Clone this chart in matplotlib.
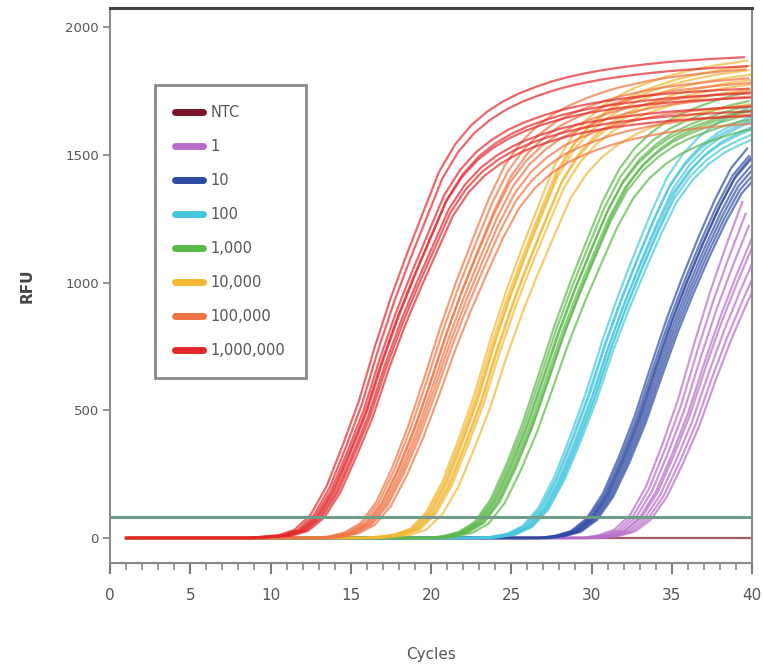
import numpy as np
import matplotlib
matplotlib.use("Agg")
import matplotlib.pyplot as plt
from matplotlib.lines import Line2D

# cycles 1..40
cycles = np.arange(1, 41)

# representative amplification curve (RFU at each cycle) per dilution
rfu_ntc = [0] * 40
rfu_1 = [0] * 30 + [9, 28, 80, 180, 325, 485, 680, 862, 1024, 1175]
rfu_10 = [0] * 27 + [8, 26, 75, 170, 310, 470, 660, 844, 1008, 1160, 1300, 1420, 1495]
rfu_100 = [0] * 23 + [4, 15, 45, 115, 235, 390, 560, 755, 928, 1085, 1235, 1370, 1460,
                      1525, 1572, 1605, 1633]
rfu_1k = [0] * 20 + [6, 22, 60, 145, 280, 436, 620, 808, 976, 1130, 1280, 1400, 1482,
                     1540, 1584, 1615, 1640, 1662, 1680, 1693]
rfu_10k = [0] * 16 + [5, 13, 35, 99, 215, 377, 551, 761, 950, 1118, 1277, 1431, 1534,
                      1606, 1658, 1697, 1728, 1751, 1772, 1788, 1802, 1814, 1823, 1832]
rfu_100k = [0] * 13 + [5, 20, 55, 135, 265, 420, 600, 790, 960, 1115, 1265, 1390, 1475,
                       1535, 1580, 1612, 1638, 1660, 1678, 1692, 1705, 1715, 1723, 1730,
                       1737, 1742, 1747]
rfu_1m = [0] * 9 + [5, 10, 30, 85, 190, 340, 500, 700, 880, 1040, 1190, 1340, 1440, 1510,
                    1560, 1598, 1627, 1650, 1670, 1686, 1699, 1710, 1719, 1727, 1734, 1740,
                    1745, 1749, 1753, 1756, 1759]

# replicate wells: cycle shift and plateau scale for each dilution
shift_ntc = [0.0]
scale_ntc = [1.0]
shift_1 = [-0.6, -0.4, -0.2, 0.0, 0.1, 0.3, 0.5, 0.7]
scale_1 = [1.12, 1.08, 1.04, 1.0, 0.98, 0.95, 0.92, 0.9]
shift_10 = [-0.3, -0.2, -0.1, 0.0, 0.05, 0.15, 0.25, 0.35]
scale_10 = [1.02, 1.0, 0.99, 1.0, 0.98, 0.97, 0.96, 0.95]
shift_100 = [-0.3, -0.2, -0.1, 0.0, 0.1, 0.15, 0.25, 0.3]
scale_100 = [1.03, 1.0, 1.01, 0.98, 1.0, 0.97, 0.99, 0.96]
shift_1k = [-0.3, -0.2, -0.1, 0.0, 0.1, 0.2, 0.3, 0.6]
scale_1k = [1.03, 1.01, 0.99, 1.0, 0.98, 0.97, 0.99, 0.95]
shift_10k = [-0.3, -0.2, -0.1, 0.0, 0.1, 0.2, 0.3, 0.7]
scale_10k = [1.02, 1.0, 0.99, 1.01, 0.97, 0.98, 0.96, 0.93]
shift_100k = [-0.4, -0.25, -0.1, 0.0, 0.1, 0.2, 0.3, 0.5]
scale_100k = [1.05, 1.03, 1.0, 1.02, 0.99, 0.97, 0.95, 0.93]
shift_1m = [-0.5, -0.3, -0.2, -0.1, 0.0, 0.1, 0.2, 0.35]
scale_1m = [1.07, 1.05, 1.0, 0.98, 0.99, 0.96, 0.95, 0.94]

labels = ["NTC", "1", "10", "100", "1,000", "10,000", "100,000", "1,000,000"]
colors = ["#7a1426", "#b86cc8", "#2c4aa2", "#45c6de", "#5cb849", "#f2b733", "#f07443", "#e4262a"]
curves = [rfu_ntc, rfu_1, rfu_10, rfu_100, rfu_1k, rfu_10k, rfu_100k, rfu_1m]
shifts = [shift_ntc, shift_1, shift_10, shift_100, shift_1k, shift_10k, shift_100k, shift_1m]
scales = [scale_ntc, scale_1, scale_10, scale_100, scale_1k, scale_10k, scale_100k, scale_1m]

threshold = 82

fig = plt.figure(figsize=(7.63, 6.72), dpi=100)
ax = fig.add_axes([0.1442, 0.1622, 0.8414, 0.8259])

#draw curves, NTC first, 1,000,000 on top
for curve, sh, sc, col in zip(curves, shifts, scales, colors):
    y = np.array(curve, dtype=float)
    for d, s in zip(sh, sc):
        x = np.clip(cycles + d, 1, None)
        ax.plot(x, y * s, color=col, lw=1.6, alpha=0.7)

ax.axhline(threshold, color="#6f9c86", lw=2.2)

ax.set_xlim(0, 40)
ax.set_ylim(-98, 2075)
ax.set_xticks(range(0, 41, 5))
ax.set_xticks(range(0, 41), minor=True)
ax.set_yticks([0, 500, 1000, 1500, 2000])

for side in ["left", "right", "bottom"]:
    ax.spines[side].set_color("#8a8a8a")
    ax.spines[side].set_linewidth(1.5)
ax.spines["top"].set_color("#444444")
ax.spines["top"].set_linewidth(2.2)

ax.tick_params(axis="x", which="major", length=8, width=1.5, color="#777777",
               labelsize=11, labelcolor="#555555", pad=10)
ax.tick_params(axis="x", which="minor", length=5, width=1.2, color="#888888")
ax.tick_params(axis="y", which="major", length=5, width=1.3, color="#888888",
               labelsize=9.5, labelcolor="#555555", pad=3)

ax.set_xlabel("Cycles", fontsize=11, color="#555555", labelpad=32)
ax.set_ylabel("RFU", fontsize=11, color="#444444", fontweight="bold", labelpad=22)

handles = [Line2D([0], [0], color=c, lw=5, solid_capstyle="round") for c in colors]
leg = ax.legend(handles, labels, loc="upper left", bbox_to_anchor=(0.07, 0.862),
                fontsize=10.5, labelspacing=1.3, handlelength=1.9, handletextpad=0.5,
                borderpad=1.4, borderaxespad=0, fancybox=False, framealpha=1)
leg.get_frame().set_edgecolor("#8a8a8a")
leg.get_frame().set_linewidth(2)
for t in leg.get_texts():
    t.set_color("#555555")

fig.savefig("out.png", dpi=100)
